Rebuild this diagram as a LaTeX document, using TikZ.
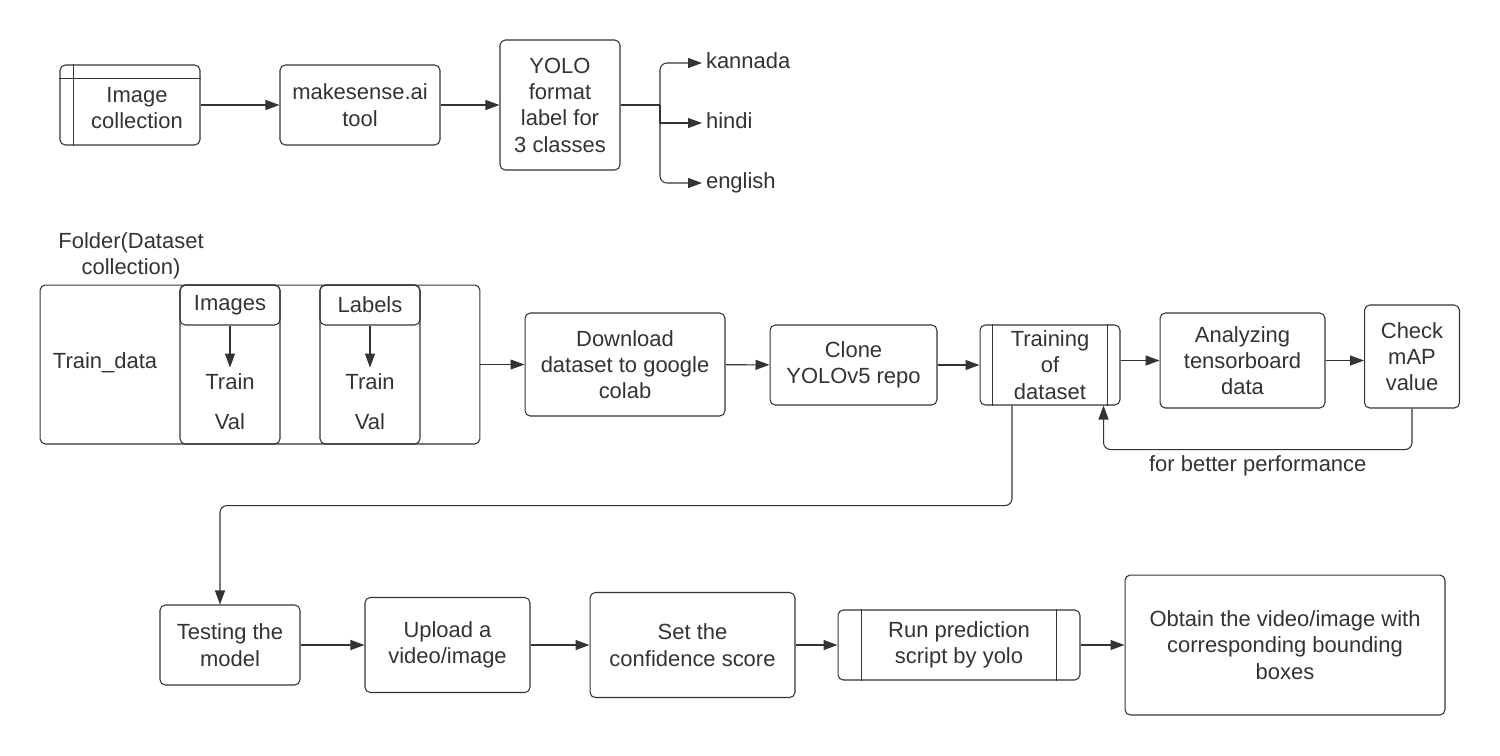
\documentclass[tikz,border=0pt]{standalone}
\usepackage{fontspec}
\setmainfont{Liberation Sans}
\usetikzlibrary{arrows.meta}
\definecolor{ink}{HTML}{333333}

\begin{document}
\begin{tikzpicture}[x=0.02cm, y=-0.02cm, color=ink, line width=0.6pt,
        font=\fontsize{12.5}{15}\selectfont,
        blk/.style={draw, rounded corners=3pt, align=center, inner sep=2pt},
        arr/.style={-{Triangle[length=0.28cm, width=0.2cm]}},
        lbl/.style={inner sep=2pt, text height=9pt, text depth=2.5pt}]
            \useasboundingbox (0,0) rectangle (1500,755);

            \node[blk, minimum width=2.8cm, minimum height=1.6cm] (img) at (130,105) {};
            \node[align=center] (imgtxt) at (137,108) {Image\\collection};
            \draw ([yshift=-0.28cm]img.north west) -- ([yshift=-0.28cm]img.north east);
            \draw ([xshift=0.28cm]img.north west) -- ([xshift=0.28cm]img.south west);
            \node[blk, minimum width=3.2cm, minimum height=1.6cm] (mks) at (360,105) {makesense.ai\\tool};
            \node[blk, minimum width=2.4cm, minimum height=2.6cm] (yolo) at (560,105) {YOLO\\format\\label for\\3 classes};
            \coordinate (br) at (660,105);
            \node[lbl, anchor=west] (kan) at (702,63) {kannada};
            \node[lbl, anchor=west] (hin) at (702,123) {hindi};
            \node[lbl, anchor=west] (eng) at (702,183) {english};
            \draw[arr] (img) -- (mks);
            \draw[arr] (mks) -- (yolo);
            \draw (yolo.east) -- (br);
            \draw[arr, rounded corners=4pt] (br) |- (kan.west);
            \draw[arr] (br) |- (hin.west);
            \draw[arr, rounded corners=4pt] (br) |- (eng.west);

            \node[align=center] (fldr) at (131,256) {Folder(Dataset\\collection)};
            \node[draw, rounded corners=3pt, minimum width=8.8cm, minimum height=3.18cm] (folder) at (260,364.5) {};
            \node (trd) at (105,363) {Train\_data};
            \node[draw, rounded corners=3pt, minimum width=2cm, minimum height=3.18cm] (imcol) at (230,364.5) {};
            \node[blk, minimum width=2cm, minimum height=0.8cm] (imhd) at (230,305) {Images};
            \node (imtr) at (230,382) {Train};
            \node (imval) at (230,422) {Val};
            \draw[arr] (imhd) -- (imtr);
            \node[draw, rounded corners=3pt, minimum width=2cm, minimum height=3.18cm] (lbcol) at (370,364.5) {};
            \node[blk, minimum width=2cm, minimum height=0.8cm] (lbhd) at (370,305) {Labels};
            \node (lbtr) at (370,382) {Train};
            \node (lbval) at (370,422) {Val};
            \draw[arr] (lbhd) -- (lbtr);

            \node[blk, minimum width=4cm, minimum height=2.06cm] (dl) at (625,364.5) {Download\\dataset to google\\colab};
            \node[blk, minimum width=3.34cm, minimum height=1.6cm] (clone) at (853.5,365) {Clone\\YOLOv5 repo};
            \node[blk, minimum width=2.8cm, minimum height=1.6cm] (train) at (1050,365) {Training\\of\\dataset};
            \draw ([xshift=0.26cm]train.north west) -- ([xshift=0.26cm]train.south west);
            \draw ([xshift=-0.26cm]train.north east) -- ([xshift=-0.26cm]train.south east);
            \node[blk, minimum width=3.3cm, minimum height=1.9cm] (ana) at (1242.5,360.5) {Analyzing\\tensorboard\\data};
            \node[blk, minimum width=1.9cm, minimum height=2.06cm] (chk) at (1412,356.5) {Check\\mAP\\value};
            \draw[arr, line width=0.4pt] (folder) -- (dl);
            \draw[arr] (dl) -- (clone);
            \draw[arr] (clone) -- (train);
            \draw[arr, line width=0.9pt] (ana.west -| train.east) -- (ana.west);
            \draw[arr] (ana.east) -- (ana.east -| chk.west);
            \draw[arr, rounded corners=4pt] (chk.south) -- ++(0,41) -| ([xshift=-0.34cm]train.south east)
                node[pos=0.25, below=0pt] {for better performance};

            \node[blk, minimum width=2.8cm, minimum height=1.6cm] (test) at (230,645) {Testing the\\model};
            \node[blk, minimum width=3.3cm, minimum height=1.9cm] (upl) at (447.5,645) {Upload a\\video/image};
            \node[blk, minimum width=4.1cm, minimum height=2.1cm] (conf) at (692.5,645) {Set the\\confidence score};
            \node[blk, minimum width=4.84cm, minimum height=1.4cm] (run) at (959,645) {Run prediction\\script by yolo};
            \draw ([xshift=0.48cm]run.north west) -- ([xshift=0.48cm]run.south west);
            \draw ([xshift=-0.48cm]run.north east) -- ([xshift=-0.48cm]run.south east);
            \node[blk, minimum width=6.4cm, minimum height=2.8cm] (obt) at (1285,645) {Obtain the video/image with\\corresponding bounding\\boxes};
            \draw[arr, rounded corners=4pt] ([xshift=-0.76cm]train.south) -- ++(0,100) -| ([xshift=-0.2cm]test.north);
            \draw[arr] (test) -- (upl);
            \draw[arr] (upl) -- (conf);
            \draw[arr] (conf) -- (run);
            \draw[arr] (run) -- (obt);
\end{tikzpicture}
\end{document}
